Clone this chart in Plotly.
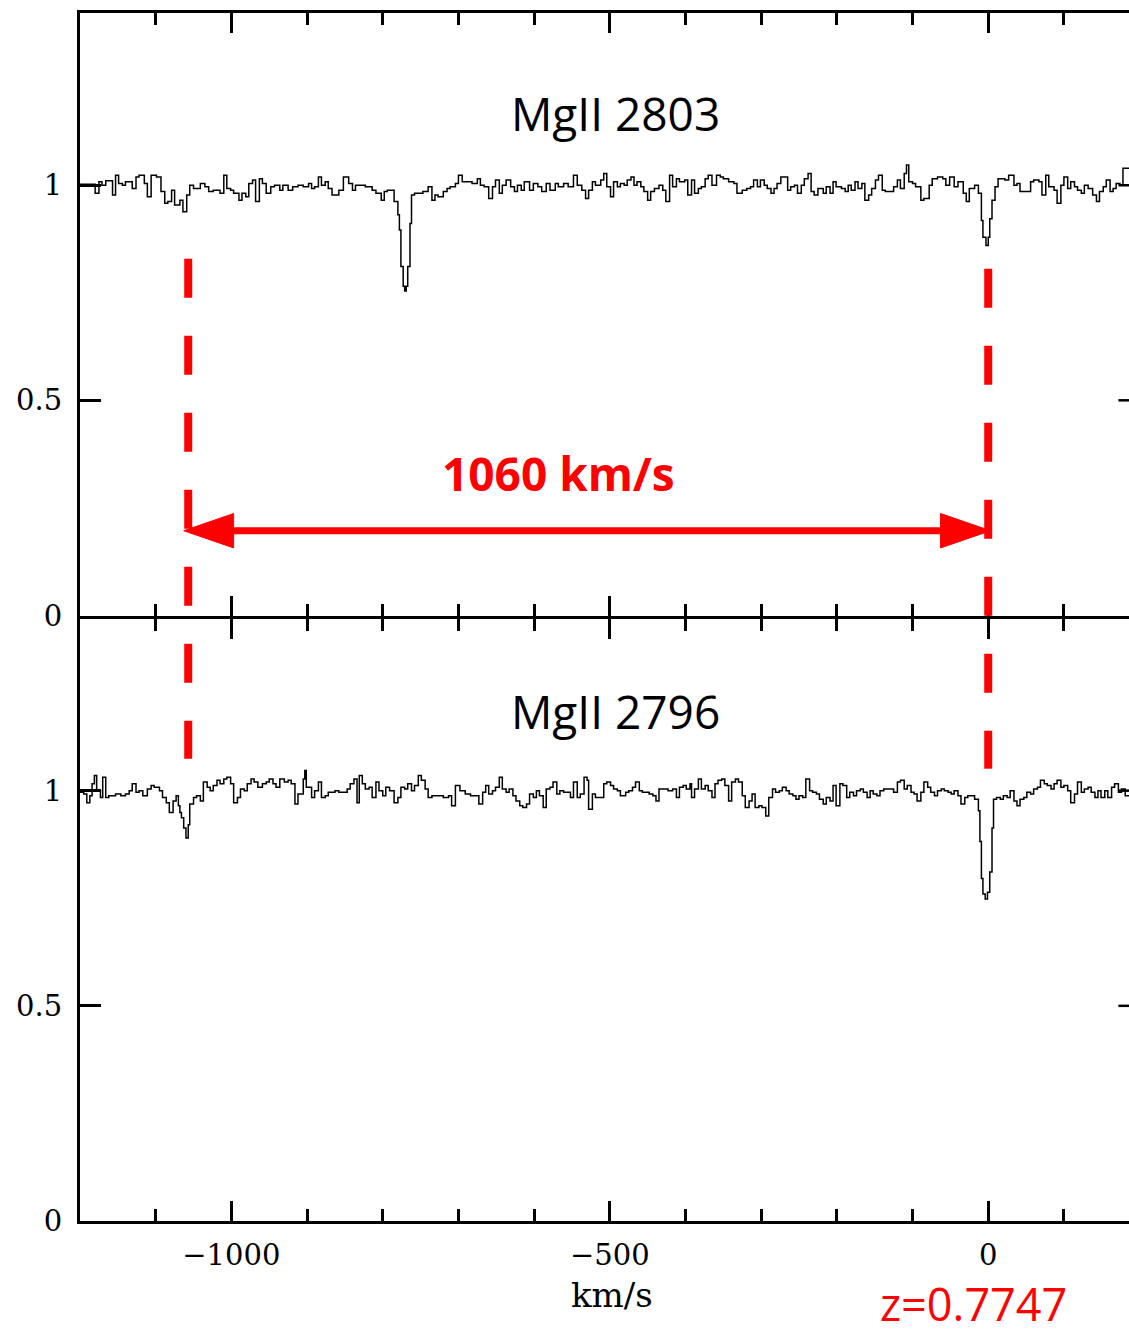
import plotly.graph_objects as go

# ---------------- data (velocity km/s, normalised flux) ----------------
V_2803 = [-1200, -1180, -1175, -1171, -1166, -1157, -1153, -1149, -1144, -1140, -1131, -1126, -1122,
          -1115, -1111, -1106, -1099, -1093, -1088, -1084, -1079, -1075, -1068, -1064, -1059, -1055,
          -1050, -1041, -1035, -1030, -1024, -1015, -1010, -1006, -1001, -997, -990, -986, -981, -977,
          -972, -968, -963, -959, -954, -948, -943, -936, -932, -925, -919, -912, -905, -898, -894,
          -890, -885, -881, -876, -872, -867, -858, -852, -845, -840, -836, -823, -814, -809, -802,
          -798, -794, -785, -780, -778, -776, -773, -771, -769, -767, -764, -762, -758, -747, -740,
          -735, -731, -727, -720, -715, -711, -704, -700, -695, -682, -675, -671, -666, -660, -655,
          -651, -646, -642, -637, -631, -626, -622, -617, -613, -606, -601, -595, -590, -584, -579,
          -572, -568, -561, -555, -548, -543, -537, -532, -528, -523, -519, -512,
          -508, -504, -499, -495, -490, -486, -481, -477, -472, -468, -464, -459, -455, -450, -446,
          -441, -435, -430, -426, -421, -417, -412, -408, -401, -397, -392, -388, -383, -379, -374,
          -370, -365, -359, -354, -350, -343, -336, -332, -325, -319, -314, -310, -305, -301, -296,
          -292, -287, -283, -279, -274, -265, -261, -256, -252, -247, -243, -238, -234, -230, -225,
          -218, -214, -209, -205, -201, -194, -189, -185, -181, -176, -172, -167, -163, -158, -154,
          -149, -145, -140, -136, -125, -120, -116, -111, -108, -105, -100, -96, -89, -85, -78, -74,
          -67, -60, -56, -51, -45, -40, -33, -29, -25, -18, -13, -9, -7, -3, 0, 2, 5, 9, 13, 22, 27,
          34, 38, 42, 56, 60, 67, 71, 76, 80, 87, 91, 96, 100, 105, 109, 114, 118, 123, 127, 132,
          138, 143, 147, 152, 156, 161, 165, 169, 174, 178, 186]
F_2803 = [1.002, 0.981, 1.008, 1.000, 1.010, 0.977, 1.023, 1.004, 1.000, 1.008, 0.992, 1.019, 1.023,
          1.004, 0.973, 1.023, 1.019, 0.985, 0.958, 0.962, 0.988, 0.954, 0.965, 0.938, 0.977, 1.000,
          0.992, 1.004, 0.996, 0.985, 0.988, 0.981, 1.023, 0.992, 0.988, 0.981, 0.965, 0.981, 0.973,
          1.004, 1.012, 0.962, 1.015, 1.004, 0.981, 0.996, 1.000, 0.988, 1.000, 0.988, 0.996, 1.000,
          0.996, 1.004, 0.992, 0.996, 1.019, 1.000, 1.008, 0.992, 0.977, 0.988, 1.019, 1.004, 0.988,
          1.000, 0.996, 0.988, 0.981, 0.965, 0.985, 0.988, 0.962, 0.931, 0.896, 0.811, 0.765, 0.754,
          0.765, 0.811, 0.911, 0.977, 0.981, 0.985, 0.996, 0.965, 0.977, 0.973, 0.985, 0.992, 0.996,
          1.004, 1.023, 1.008, 1.004, 1.015, 1.000, 0.996, 0.969, 0.996, 1.012, 0.981, 1.000, 1.012,
          0.996, 0.985, 1.000, 0.988, 1.008, 0.988, 1.004, 0.996, 0.985, 1.004, 0.988, 1.004, 0.996,
          1.004, 0.996, 1.023, 1.000, 0.988, 0.969, 0.988, 1.008, 1.000, 1.012,
          1.027, 0.996, 0.973, 1.008, 0.996, 1.004, 1.000, 1.012, 1.019, 1.000, 1.008, 0.996, 0.985,
          0.965, 0.985, 0.992, 1.000, 0.988, 0.962, 1.023, 0.996, 1.015, 1.008, 1.012, 0.977, 1.012,
          0.981, 0.992, 0.996, 1.015, 1.023, 1.000, 1.023, 1.019, 1.015, 1.008, 1.004, 0.981, 0.988,
          0.992, 0.996, 1.012, 0.996, 1.012, 1.000, 0.992, 0.981, 0.992, 1.004, 1.019, 0.988, 0.996,
          1.000, 0.981, 1.000, 1.015, 1.027, 0.985, 0.977, 0.992, 0.981, 0.996, 0.981, 1.008, 0.996,
          0.992, 0.985, 1.000, 0.988, 1.008, 0.992, 1.004, 0.965, 0.977, 0.992, 1.012, 1.023, 0.988,
          0.985, 0.996, 1.012, 0.992, 1.027, 1.047, 1.008, 1.004, 0.996, 0.965, 0.969, 1.000, 1.015,
          1.019, 1.015, 1.000, 1.019, 0.996, 1.008, 0.981, 0.962, 0.992, 1.000, 0.981, 0.918, 0.879,
          0.860, 0.879, 0.922, 0.965, 0.996, 1.015, 1.012, 1.023, 1.000, 1.004, 0.985, 1.008, 1.012,
          1.008, 0.977, 1.023, 0.996, 0.988, 0.958, 1.000, 1.019, 0.992, 1.008, 0.996, 0.988, 0.981,
          1.000, 0.992, 0.977, 0.962, 0.985, 0.996, 1.012, 0.985, 0.992, 1.004, 1.000, 1.039, 1.039]

V_2796 = [-1200, -1195, -1191, -1187, -1184, -1181, -1178, -1173, -1170, -1166, -1162, -1153, -1146,
          -1140, -1135, -1131, -1126, -1122, -1117, -1111, -1106, -1102, -1095, -1091, -1086, -1082,
          -1077, -1073, -1070, -1068, -1066, -1063, -1060, -1057, -1055, -1050, -1046, -1041, -1037,
          -1032, -1028, -1024, -1019, -1015, -1010, -1006, -1001, -997, -992, -988, -983, -979, -974,
          -970, -965, -959, -954, -950, -945, -941, -936, -930, -925, -921, -916, -912, -905, -903,
          -901, -894, -890, -885, -881, -876, -872, -863, -858, -847, -843, -838, -834, -831, -827,
          -823, -818, -814, -809, -805, -800, -796, -791, -785, -780, -776, -771, -767, -762, -758,
          -753, -749, -744, -740, -735, -720, -713, -709, -704, -698, -691, -684, -673, -668, -664,
          -660, -655, -651, -646, -642, -637, -633, -628, -624, -619, -615, -610, -606, -601, -597,
          -593, -588, -584, -579, -575, -570, -566, -561, -552, -548, -543, -539, -534, -530, -528,
          -523, -519, -508,
          -504, -499, -495, -490, -486, -479, -475, -470, -466, -461, -457, -448, -443, -439, -435,
          -423, -417, -412, -408, -403, -399, -394, -392, -388, -383, -379, -374, -370, -365, -361,
          -357, -352, -348, -343, -339, -334, -330, -325, -321, -316, -312, -308, -303, -299, -294,
          -290, -285, -281, -276, -272, -267, -263, -258, -254, -250, -245, -241, -236, -232, -227,
          -223, -218, -214, -209, -205, -201, -196, -192, -187, -183, -178, -174, -169, -165, -160,
          -156, -152, -147, -143, -138, -125, -120, -116, -111, -107, -102, -98, -94, -89, -85, -80,
          -76, -71, -67, -62, -58, -53, -49, -45, -40, -36, -31, -27, -18, -13, -11, -9, -7, -4, -1,
          2, 5, 7, 11, 16, 20, 25, 29, 34, 38, 42, 47, 51, 56, 60, 65, 69, 74, 78, 83, 87, 91, 96,
          100, 105, 109, 114, 118, 123, 127, 132, 136, 141, 145, 149, 154, 158, 163, 167, 172, 176,
          181, 186]
F_2796 = [0.996, 0.992, 0.972, 0.988, 1.016, 1.035, 1.000, 0.984, 1.031, 0.984, 0.988, 0.992, 0.988,
          0.992, 1.000, 1.016, 0.996, 1.000, 0.988, 1.004, 1.012, 1.008, 1.000, 0.984, 0.972, 0.949,
          0.976, 0.988, 0.965, 0.949, 0.937, 0.913, 0.890, 0.921, 0.969, 0.984, 0.988, 0.976, 1.020,
          1.008, 1.000, 1.012, 1.024, 1.016, 1.027, 1.031, 1.016, 0.972, 0.984, 1.004, 1.000, 1.016,
          1.027, 1.020, 1.008, 1.016, 1.020, 1.027, 1.016, 1.008, 1.027, 1.020, 1.024, 1.016, 0.969,
          0.992, 1.027, 1.047, 1.008, 0.984, 1.000, 1.020, 0.984, 0.988, 0.996, 1.000, 0.996, 1.004,
          1.016, 1.027, 0.972, 1.035, 1.016, 1.004, 1.008, 0.984, 1.020, 1.000, 0.988, 1.008, 1.000,
          0.972, 0.984, 1.008, 1.004, 1.016, 1.000, 1.012, 1.035, 1.024, 1.004, 0.984, 0.988, 0.984,
          0.988, 0.965, 1.012, 1.000, 0.992, 0.988, 0.969, 0.996, 1.012, 0.992, 1.000, 1.008, 1.031,
          1.004, 0.996, 1.004, 0.988, 0.976, 0.965, 0.961, 0.969, 0.992, 0.984, 1.000, 0.988, 0.961,
          1.004, 1.008, 1.020, 0.992, 1.000, 0.996, 0.984, 1.020, 0.984, 0.992, 1.031, 1.024, 0.957,
          0.992, 0.984, 1.016,
          1.020, 1.012, 1.004, 1.000, 0.988, 0.996, 1.000, 1.008, 1.020, 1.000, 0.996, 0.992, 0.988,
          0.976, 1.004, 1.000, 1.004, 0.984, 1.008, 1.012, 1.004, 1.016, 0.984, 1.004, 1.027, 1.004,
          1.012, 1.000, 0.984, 1.016, 1.024, 1.027, 1.012, 0.976, 1.020, 1.027, 1.020, 0.988, 0.961,
          0.976, 0.992, 0.961, 0.965, 0.961, 0.941, 0.984, 1.004, 0.996, 1.000, 1.008, 1.000, 0.992,
          0.988, 0.980, 0.988, 0.984, 1.027, 1.000, 0.996, 0.992, 0.980, 0.969, 0.984, 0.976, 1.012,
          0.965, 1.016, 1.012, 0.984, 0.996, 0.988, 1.000, 1.004, 0.996, 0.984, 1.000, 0.992, 0.988,
          1.000, 1.004, 0.996, 1.020, 1.024, 1.004, 1.012, 0.996, 0.992, 0.976, 0.996, 1.020, 1.008,
          0.996, 0.988, 1.000, 1.004, 1.000, 0.996, 0.992, 1.000, 0.988, 0.969, 0.984, 0.988, 0.980,
          0.953, 0.882, 0.796, 0.760, 0.748, 0.764, 0.811, 0.913, 0.980, 0.984, 0.980, 0.988, 0.984,
          1.000, 0.976, 0.965, 0.980, 0.984, 0.996, 0.992, 1.004, 1.008, 1.024, 1.016, 1.012, 1.004,
          1.016, 1.024, 1.008, 1.012, 1.000, 0.972, 0.992, 1.020, 0.996, 1.004, 1.008, 0.996, 0.984,
          1.000, 0.984, 1.000, 0.984, 1.008, 1.016, 0.996, 1.004, 0.988, 0.988]

PANEL_TITLES = ["MgII 2803", "MgII 2796"]
Y_TICKS = [0, 0.5, 1]
Y_TICKTEXT = ["0", "0.5", "1"]
X_RANGE = [-1200, 186]
Y_RANGE = [0, 1.4]

# marked components and separation
V_BLUE = -1057
V_RED = 0
SEP_LABEL = "1060 km/s"
REDSHIFT_LABEL = "z=0.7747"
X_TITLE = "km/s"

RED = "#ff0000"

# panel layout (a small gap so the two 3px frame lines coincide)
W, H = 1129, 1333
M_L, M_T, M_B = 80, 13, 112
GAP = 3 / (H - M_T - M_B)
TOP_DOM = [0.5 + GAP / 2, 1.0]
BOT_DOM = [0.0, 0.5 - GAP / 2]

fig = go.Figure()
fig.add_trace(go.Scatter(x=V_2803, y=F_2803, mode="lines", xaxis="x", yaxis="y",
                         line=dict(shape="hv", color="black", width=1.5), showlegend=False,
                         hoverinfo="skip"))
fig.add_trace(go.Scatter(x=V_2796, y=F_2796, mode="lines", xaxis="x2", yaxis="y2",
                         line=dict(shape="hv", color="black", width=1.5), showlegend=False,
                         hoverinfo="skip"))

serif = "DejaVu Serif"
sans = "Open Sans"
common_x = dict(range=X_RANGE, showline=True, linewidth=3, linecolor="black", mirror="ticks",
                ticks="inside", ticklen=20, tickwidth=2.5, tickcolor="black",
                tick0=0, dtick=500, showgrid=False, zeroline=False,
                minor=dict(dtick=100, tick0=0, ticks="inside", ticklen=12, tickwidth=2.5,
                           tickcolor="black", showgrid=False))
common_y = dict(range=Y_RANGE, showline=True, linewidth=3, linecolor="black", mirror=False,
                ticks="inside", ticklen=21, tickwidth=2.5, tickcolor="black",
                tickvals=Y_TICKS, ticktext=Y_TICKTEXT, showgrid=False, zeroline=False,
                tickfont=dict(family=serif, size=29, color="black"), ticklabelstandoff=9)

fig.update_layout(
    width=W, height=H,
    margin=dict(l=M_L, r=0, t=M_T, b=M_B),
    paper_bgcolor="white", plot_bgcolor="white",
    xaxis=dict(common_x, domain=[0, 1], anchor="y", showticklabels=False, matches="x2"),
    xaxis2=dict(common_x, domain=[0, 1], anchor="y2", showticklabels=True,
                tickfont=dict(family=serif, size=29, color="black"), ticklabelstandoff=6),
    yaxis=dict(common_y, domain=TOP_DOM, anchor="x"),
    yaxis2=dict(common_y, domain=BOT_DOM, anchor="x2"),
)

# right-hand ticks (the right frame lies just outside the image)
rtick = 14
for yref in ["y", "y2"]:
    for yv in Y_TICKS[1:]:
        fig.add_shape(type="line", xref="x", yref=yref, x0=X_RANGE[1] - rtick, x1=X_RANGE[1],
                      y0=yv, y1=yv, line=dict(color="black", width=2.5))


def paper_y(panel, yval):
    """convert a flux value in a panel (0=top,1=bottom) to paper coordinates"""
    d0, d1 = TOP_DOM if panel == 0 else BOT_DOM
    return d0 + (d1 - d0) * (yval - Y_RANGE[0]) / (Y_RANGE[1] - Y_RANGE[0])


# dashed vertical markers spanning both panels
fig.add_shape(type="line", xref="x", yref="paper", x0=V_BLUE, x1=V_BLUE,
              y0=paper_y(0, 0.829), y1=paper_y(1, 1.074),
              line=dict(color=RED, width=8, dash="39px,38px"))
fig.add_shape(type="line", xref="x", yref="paper", x0=V_RED, x1=V_RED,
              y0=paper_y(0, 0.806), y1=paper_y(1, 1.051),
              line=dict(color=RED, width=8, dash="39px,38px"))

# double-headed arrow
AY = 0.197
HEAD_L = 66
HEAD_H = 0.040
a_left, a_right = V_BLUE - 6, V_RED + 3
fig.add_shape(type="line", xref="x", yref="y", x0=a_left + HEAD_L - 5, x1=a_right - HEAD_L + 5,
              y0=AY, y1=AY, line=dict(color=RED, width=7))
fig.add_shape(type="path", xref="x", yref="y", fillcolor=RED, line=dict(color=RED, width=1),
              path=f"M {a_left},{AY} L {a_left + HEAD_L},{AY + HEAD_H} L {a_left + HEAD_L},{AY - HEAD_H} Z")
fig.add_shape(type="path", xref="x", yref="y", fillcolor=RED, line=dict(color=RED, width=1),
              path=f"M {a_right},{AY} L {a_right - HEAD_L},{AY + HEAD_H} L {a_right - HEAD_L},{AY - HEAD_H} Z")

fig.add_annotation(x=-493, y=1.167, xref="x", yref="y", text=PANEL_TITLES[0], showarrow=False,
                   xanchor="center", yanchor="middle",
                   font=dict(family=sans, size=46, color="black"))
fig.add_annotation(x=-493, y=1.184, xref="x2", yref="y2", text=PANEL_TITLES[1], showarrow=False,
                   xanchor="center", yanchor="middle",
                   font=dict(family=sans, size=46, color="black"))
fig.add_annotation(x=-568, y=0.331, xref="x", yref="y", text=f"<b>{SEP_LABEL}</b>", showarrow=False,
                   xanchor="center", yanchor="middle",
                   font=dict(family=sans, size=46, color=RED))


def px_to_paper(px_x, px_y):
    pw, ph = W - M_L, H - M_T - M_B
    return (px_x - M_L) / pw, (H - M_B - px_y) / ph


zx, zy = px_to_paper(973, 1303)
fig.add_annotation(x=zx, y=zy, xref="paper", yref="paper", text=REDSHIFT_LABEL,
                   showarrow=False, xanchor="center", yanchor="middle",
                   font=dict(family=sans, size=45, color=RED))
kx, ky = px_to_paper(612, 1295)
fig.add_annotation(x=kx, y=ky, xref="paper", yref="paper", text=X_TITLE,
                   showarrow=False, xanchor="center", yanchor="middle",
                   font=dict(family=serif, size=34, color="black"))

fig.write_html("out.html")
